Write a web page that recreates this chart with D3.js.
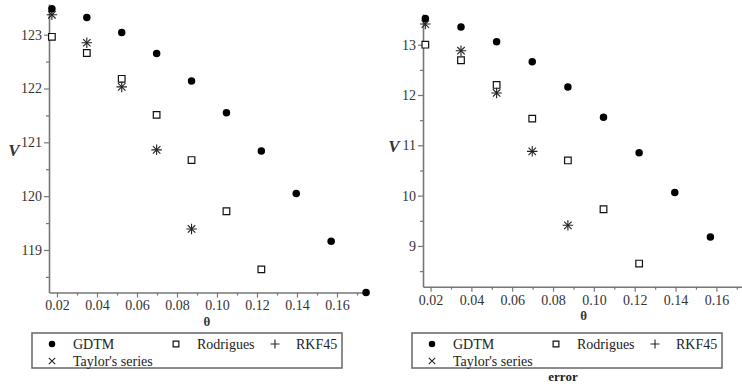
<!DOCTYPE html>
<html>
<head>
<meta charset="utf-8">
<script src="https://cdn.jsdelivr.net/npm/d3@7"></script>
<style>
  body { margin: 0; background: #fff; }
</style>
</head>
<body>
<svg id="chart" width="742" height="387" font-family="Liberation Serif"></svg>
<script>
// theta values (1..10 degrees in rad)
const theta = [0.01745, 0.03491, 0.05236, 0.06981, 0.08727, 0.10472, 0.12217, 0.13963, 0.15708, 0.17453];

// left panel: V
const gdtmL = [123.48, 123.32, 123.04, 122.65, 122.14, 121.55, 120.84, 120.05, 119.16, 118.21];
const rodL = [122.96, 122.66, 122.18, 121.51, 120.67, 119.72, 118.64];
const taylorL = [123.37, 122.85, 122.03, 120.86, 119.39];
const rkfL = [123.37, 122.85, 122.03, 120.86, 119.39];

// right panel: error
const gdtmR = [13.52, 13.35, 13.06, 12.66, 12.16, 11.56, 10.85, 10.06, 9.18];
const rodR = [13.0, 12.69, 12.2, 11.53, 10.7, 9.73, 8.65];
const taylorR = [13.41, 12.88, 12.04, 10.88, 9.41];
const rkfR = [13.41, 12.88, 12.04, 10.88, 9.41];

const xMajor = [0.02, 0.04, 0.06, 0.08, 0.10, 0.12, 0.14, 0.16];
const xMinor = [0.03, 0.05, 0.07, 0.09, 0.11, 0.13, 0.15, 0.17];
const yMajorL = [119, 120, 121, 122, 123];
const yMinorL = [118.5, 119.5, 120.5, 121.5, 122.5];
const yMajorR = [9, 10, 11, 12, 13];
const yMinorR = [8.5, 9.5, 10.5, 11.5, 12.5];

const legendItems = [
  { label: "GDTM", sym: "dot", col: 0, row: 0 },
  { label: "Rodrigues", sym: "square", col: 1, row: 0 },
  { label: "RKF45", sym: "plus", col: 2, row: 0 },
  { label: "Taylor's series", sym: "times", col: 0, row: 1 },
];

const FONT = "Liberation Serif";
const svg = d3.select("#chart");
const axisCol = "#777";
const textCol = "#333";

function styleSym(sel, sym, small) {
  const k = small ? 0.75 : 1;
  if (sym === "dot") {
    sel.attr("d", d3.symbol(d3.symbolCircle, 44 * k)).attr("fill", "#000");
  } else if (sym === "square") {
    sel.attr("d", d3.symbol(d3.symbolSquare, 44 * k)).attr("fill", "#fff")
      .attr("stroke", "#111").attr("stroke-width", 1.2);
  } else if (sym === "plus") {
    sel.attr("d", d3.symbol(d3.symbolPlus, 38 * k)).attr("fill", "none")
      .attr("stroke", "#222").attr("stroke-width", 1.1);
  } else {
    sel.attr("d", d3.symbol(d3.symbolTimes, 38 * k)).attr("fill", "none")
      .attr("stroke", "#222").attr("stroke-width", 1.1);
  }
}

function drawMarks(g, x, y, vals, sym) {
  const pts = vals.map((v, i) => [theta[i], v]);
  const sel = g.append("g").selectAll("path").data(pts).join("path")
    .attr("transform", d => `translate(${x(d[0])},${y(d[1])})`);
  styleSym(sel, sym);
}

function panel(cfg) {
  const x = d3.scaleLinear().domain(cfg.xDom).range(cfg.xRange);
  const y = d3.scaleLinear().domain(cfg.yDom).range(cfg.yRange);
  const g = svg.append("g");
  const x0 = cfg.xRange[0], yb = cfg.yRange[0];

  // x axis (major + minor)
  g.append("g").attr("transform", `translate(0,${yb})`)
    .call(d3.axisBottom(x).tickValues(xMajor).tickFormat(d3.format(".2f")).tickSize(5).tickSizeOuter(0).tickPadding(3));
  g.append("g").attr("transform", `translate(0,${yb})`)
    .call(d3.axisBottom(x).tickValues(xMinor).tickFormat("").tickSize(3).tickSizeOuter(0))
    .select(".domain").remove();

  // y axis (major + minor)
  g.append("g").attr("transform", `translate(${x0},0)`)
    .call(d3.axisLeft(y).tickValues(cfg.yMajor).tickFormat(d3.format("d")).tickSize(5).tickSizeOuter(0).tickPadding(2));
  g.append("g").attr("transform", `translate(${x0},0)`)
    .call(d3.axisLeft(y).tickValues(cfg.yMinor.filter(v => v > cfg.yDom[0])).tickFormat("").tickSize(3).tickSizeOuter(0))
    .select(".domain").remove();

  g.selectAll("g").attr("font-family", FONT);
  g.selectAll(".domain").attr("stroke", axisCol).attr("stroke-width", 1.6);
  g.selectAll(".tick line").attr("stroke", axisCol).attr("stroke-width", 1.2);
  g.selectAll(".tick text").attr("fill", textCol).attr("font-size", 14).attr("font-family", FONT);

  // axis labels
  g.append("text").attr("x", x(0.095)).attr("y", yb + 33).attr("text-anchor", "middle")
    .attr("font-family", FONT).attr("font-weight", "bold").attr("font-size", 13).attr("fill", textCol).text("θ");
  g.append("text").attr("x", cfg.vx).attr("y", cfg.vy).attr("text-anchor", "middle")
    .attr("font-family", FONT).attr("font-weight", "bold").attr("font-style", "italic")
    .attr("font-size", 17).attr("fill", textCol).text("V");

  // marks
  drawMarks(g, x, y, cfg.rod, "square");
  drawMarks(g, x, y, cfg.taylor, "times");
  drawMarks(g, x, y, cfg.rkf, "plus");
  drawMarks(g, x, y, cfg.gdtm, "dot");

  // legend
  const lg = g.append("g").attr("transform", `translate(${cfg.legX},333)`);
  lg.append("rect").attr("width", 310).attr("height", 35)
    .attr("fill", "#fff").attr("stroke", "#666").attr("stroke-width", 1.5);
  const colX = [20, 144, 243];
  legendItems.forEach(it => {
    const cx = colX[it.col], cy = 11 + it.row * 17;
    styleSym(lg.append("path").attr("transform", `translate(${cx},${cy})`), it.sym, true);
    lg.append("text").attr("x", cx + 21).attr("y", cy + 5).attr("font-size", 14)
      .attr("font-family", FONT).attr("fill", "#222").text(it.label);
  });
}

panel({
  xDom: [0.016, 0.175], xRange: [49, 367],
  yDom: [118.21, 123.57], yRange: [292.5, 4],
  yMajor: yMajorL, yMinor: yMinorL,
  gdtm: gdtmL, rod: rodL, taylor: taylorL, rkf: rkfL,
  vx: 14, vy: 156, legX: 32
});

panel({
  xDom: [0.0163, 0.175], xRange: [423, 747],
  yDom: [8.19, 13.61], yRange: [286.7, 14],
  yMajor: yMajorR, yMinor: yMinorR,
  gdtm: gdtmR, rod: rodR, taylor: taylorR, rkf: rkfR,
  vx: 394, vy: 152, legX: 412
});

svg.append("text").attr("x", 563).attr("y", 381).attr("text-anchor", "middle")
  .attr("font-family", FONT).attr("font-weight", "bold").attr("font-size", 13).attr("fill", "#222").text("error");
</script>
</body>
</html>
